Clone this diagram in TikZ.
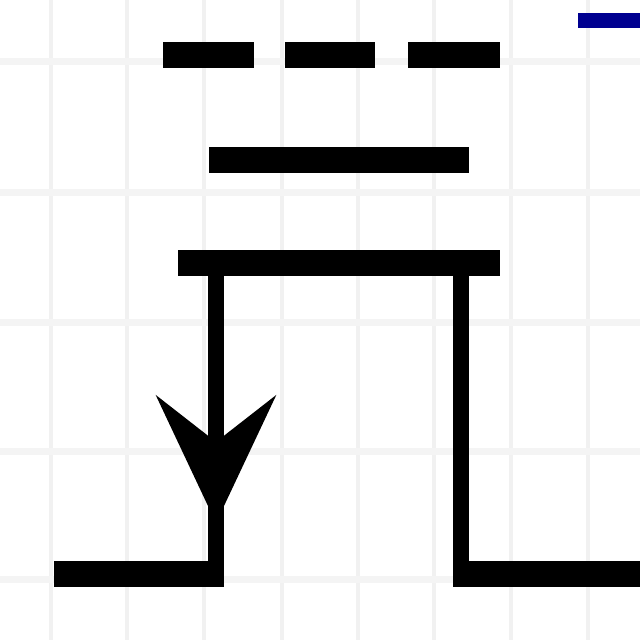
\documentclass[tikz,border=0pt]{standalone}
\usepackage{xcolor}
\usetikzlibrary{arrows.meta}

\definecolor{gridgray}{HTML}{F1F1F1}
\definecolor{rowgray}{HTML}{F4F4F4}
\definecolor{wirenavy}{HTML}{000090}

\begin{document}
\begin{tikzpicture}[x=1pt, y=-1pt, line cap=butt,
    gridline/.style={gridgray, line width=4pt},
    gridrow/.style={rowgray, line width=7pt},
    plate/.style={black, line width=26pt},
    wire/.style={black, line width=16pt}]

\useasboundingbox[fill=white] (0,0) rectangle (640,640);

% --- layout helpers ---
\def\Lx{216}   % left wire x
\def\Rx{461}   % right wire x
\def\Py{263}   % top plate y
\def\By{574}   % bottom rail y

% --- background grid ---
\foreach \gx in {51,127,204,282,358,434,511,588}
  \draw[gridline] (\gx,0) -- (\gx,640);
\foreach \gy in {61,192,322,451,579}
  \draw[gridrow] (0,\gy) -- (640,\gy);

% --- end points ---
\coordinate (dashAw) at (163,55);
\coordinate (dashAe) at (254,55);
\coordinate (dashBw) at (285,55);
\coordinate (dashBe) at (375,55);
\coordinate (dashCw) at (408,55);
\coordinate (dashCe) at (500,55);
\coordinate (barw) at (209,160);
\coordinate (bare) at (469,160);
\coordinate (platew) at (178,\Py);
\coordinate (platee) at (500,\Py);
\coordinate (lefttop) at (\Lx,\Py);
\coordinate (righttop) at (\Rx,\Py);
\coordinate (leftbot) at (\Lx,\By);
\coordinate (arrowtip) at (\Lx,523);
\coordinate (railw) at (54,\By);
\coordinate (raile) at (224,\By);
\coordinate (rightbot) at (\Rx,\By);
\coordinate (rightend) at (640,\By);
\coordinate (navyw) at (578,20);
\coordinate (navye) at (640,20);

% --- dashed top row ---
\draw[plate] (dashAw) -- (dashAe);
\draw[plate] (dashBw) -- (dashBe);
\draw[plate] (dashCw) -- (dashCe);

% --- solid bars ---
\draw[plate] (barw) -- (bare);
\draw[plate] (platew) -- (platee);

% --- wires ---
\draw[wire] (lefttop) -- (leftbot);
\draw[wire, -{Stealth[length=127pt, width=119pt, inset=46pt]}] (lefttop) -- (arrowtip);
\draw[wire] (righttop) -- (\Rx,582);

% --- bottom rails ---
\draw[plate] (railw) -- (raile);
\draw[plate] (453,\By) -- (rightend);

% --- blue stub, top right ---
\draw[wirenavy, line width=15pt] (navyw) -- (navye);

\end{tikzpicture}
\end{document}
